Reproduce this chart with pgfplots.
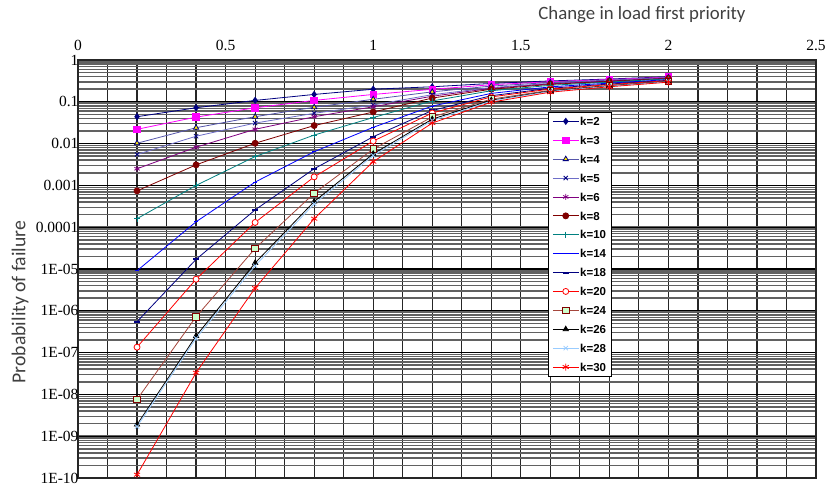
\documentclass[border=0pt]{standalone}
\usepackage{fontspec}
\setmainfont{Liberation Serif}
\newfontfamily\calibri{Carlito}
\newfontfamily\arialf{Liberation Sans}
\usepackage{pgfplots}
\pgfplotsset{compat=1.18}
\definecolor{cNavy}{RGB}{0,0,128}
\definecolor{cMag}{RGB}{255,0,255}
\definecolor{cSlate}{RGB}{85,85,170}
\definecolor{cSlate2}{RGB}{110,110,200}
\definecolor{cPurp}{RGB}{128,0,128}
\definecolor{cDRed}{RGB}{128,0,0}
\definecolor{cTeal}{RGB}{0,128,128}
\definecolor{cBlue}{RGB}{0,0,255}
\definecolor{cRed}{RGB}{255,0,0}
\definecolor{cBrown}{RGB}{165,70,60}
\definecolor{cPaleG}{RGB}{204,255,204}
\definecolor{cLBlue}{RGB}{153,204,255}
\definecolor{cYel}{RGB}{255,230,0}
\definecolor{cLab}{RGB}{64,64,64}
\begin{document}
\begin{tikzpicture}
\useasboundingbox (-78pt,-10pt) rectangle (755pt,478pt);
\begin{axis}[
  at={(0pt,0pt)}, anchor=south west,
  scale only axis, width=738pt, height=418pt,
  xmin=0, xmax=2.5, ymode=log, ymin=1e-10, ymax=1,
  xtick={0,0.5,1,1.5,2,2.5}, xticklabels={0,0.5,1,1.5,2,2.5},
  minor x tick num=4,
  xticklabel pos=upper,
  ytick={1e-10,1e-9,1e-8,1e-7,1e-6,1e-5,1e-4,1e-3,1e-2,1e-1,1},
  yticklabels={1E-10,1E-09,1E-08,1E-07,1E-06,1E-05,0.0001,0.001,0.01,0.1,1},
  grid=both,
  major x grid style={black!85, line width=1.2pt},
  minor x grid style={black!85, line width=1.2pt},
  major y grid style={black, line width=1.2pt},
  minor y grid style={black!62, line width=1.5pt},
  major tick length=0pt, minor tick length=0pt,
  axis line style={black!85, line width=1.1pt},
  tick label style={font=\fontsize{15.5}{17}\selectfont},
  xticklabel style={yshift=5.5pt},
  yticklabel style={xshift=4pt},
  clip=false,
  every axis plot/.append style={line width=0.8pt},
  legend image code/.code={\draw[mark repeat=2,mark phase=2] plot coordinates {(0pt,0pt) (13pt,0pt) (26pt,0pt)};},
  legend style={at={(0.637,0.876)}, anchor=north west, draw=black, line width=0.5pt, fill=white,
    font=\arialf\bfseries\fontsize{11.5}{13}\selectfont, inner sep=4pt, row sep=8.4pt,
    nodes={inner sep=1pt, text height=8.5pt, text depth=0pt}},
  legend cell align=left,
]
\addplot[cNavy, mark=diamond*, mark size=3pt, mark options={fill=cNavy}] coordinates {(0.2,0.044)(0.4,0.072)(0.6,0.108)(0.8,0.15)(1.0,0.20)(1.2,0.229)(1.4,0.275)(1.6,0.316)(1.8,0.351)(2.0,0.398)};
\addlegendentry{k=2}
\addplot[cMag, mark=square*, mark size=3.3pt, mark options={fill=cMag}] coordinates {(0.2,0.022)(0.4,0.043)(0.6,0.072)(0.8,0.108)(1.0,0.15)(1.2,0.199)(1.4,0.256)(1.6,0.303)(1.8,0.340)(2.0,0.390)};
\addlegendentry{k=3}
\addplot[cSlate, mark=triangle*, mark size=3pt, mark options={fill=cYel, draw=cNavy}] coordinates {(0.2,0.0102)(0.4,0.024)(0.6,0.044)(0.8,0.074)(1.0,0.115)(1.2,0.173)(1.4,0.238)(1.6,0.290)(1.8,0.330)(2.0,0.382)};
\addlegendentry{k=4}
\addplot[cSlate2, mark=x, mark size=3pt, mark options={draw=cNavy}] coordinates {(0.2,0.0055)(0.4,0.015)(0.6,0.031)(0.8,0.053)(1.0,0.084)(1.2,0.148)(1.4,0.219)(1.6,0.276)(1.8,0.319)(2.0,0.372)};
\addlegendentry{k=5}
\addplot[cPurp, mark=asterisk, mark size=3pt] coordinates {(0.2,0.0025)(0.4,0.0082)(0.6,0.022)(0.8,0.044)(1.0,0.076)(1.2,0.136)(1.4,0.210)(1.6,0.269)(1.8,0.314)(2.0,0.368)};
\addlegendentry{k=6}
\addplot[cDRed, mark=*, mark size=3pt, mark options={fill=cDRed}] coordinates {(0.2,0.00074)(0.4,0.0031)(0.6,0.0102)(0.8,0.027)(1.0,0.057)(1.2,0.123)(1.4,0.200)(1.6,0.261)(1.8,0.308)(2.0,0.363)};
\addlegendentry{k=8}
\addplot[cTeal, mark=+, mark size=3pt] coordinates {(0.2,0.00016)(0.4,0.001)(0.6,0.0049)(0.8,0.016)(1.0,0.042)(1.2,0.105)(1.4,0.184)(1.6,0.248)(1.8,0.297)(2.0,0.354)};
\addlegendentry{k=10}
\addplot[cBlue, mark=-, mark size=2pt] coordinates {(0.2,9.1e-6)(0.4,1.35e-4)(0.6,0.0012)(0.8,0.0064)(1.0,0.0245)(1.2,0.079)(1.4,0.159)(1.6,0.228)(1.8,0.280)(2.0,0.340)};
\addlegendentry{k=14}
\addplot[cNavy, mark=-, mark size=3pt, mark options={line width=2pt}] coordinates {(0.2,5.5e-7)(0.4,1.7e-5)(0.6,2.6e-4)(0.8,0.0025)(1.0,0.0146)(1.2,0.062)(1.4,0.140)(1.6,0.211)(1.8,0.266)(2.0,0.327)};
\addlegendentry{k=18}
\addplot[cRed, mark=*, mark size=3pt, mark options={fill=white}] coordinates {(0.2,1.35e-7)(0.4,5.7e-6)(0.6,1.3e-4)(0.8,0.0016)(1.0,0.0115)(1.2,0.054)(1.4,0.131)(1.6,0.202)(1.8,0.258)(2.0,0.321)};
\addlegendentry{k=20}
\addplot[cBrown, mark=square*, mark size=3.3pt, mark options={fill=cPaleG, draw=cDRed}] coordinates {(0.2,7.6e-9)(0.4,7.2e-7)(0.6,3.1e-5)(0.8,6.5e-4)(1.0,0.0074)(1.2,0.0435)(1.4,0.116)(1.6,0.189)(1.8,0.246)(2.0,0.310)};
\addlegendentry{k=24}
\addplot[black, mark=triangle*, mark size=3pt, mark options={fill=black}] coordinates {(0.2,1.9e-9)(0.4,2.5e-7)(0.6,1.4e-5)(0.8,4.1e-4)(1.0,0.0057)(1.2,0.0385)(1.4,0.109)(1.6,0.182)(1.8,0.240)(2.0,0.305)};
\addlegendentry{k=26}
\addplot[cLBlue, mark=x, mark size=3pt] coordinates {(0.2,1.7e-9)(0.4,2.2e-7)(0.6,1.2e-5)(0.8,3.6e-4)(1.0,0.0052)(1.2,0.0356)(1.4,0.105)(1.6,0.177)(1.8,0.236)(2.0,0.301)};
\addlegendentry{k=28}
\addplot[cRed, mark=asterisk, mark size=3.5pt] coordinates {(0.2,1.2e-10)(0.4,3.3e-8)(0.6,3.5e-6)(0.8,1.6e-4)(1.0,0.0037)(1.2,0.031)(1.4,0.098)(1.6,0.170)(1.8,0.229)(2.0,0.295)};
\addlegendentry{k=30}
\end{axis}
\node[rotate=90, text=cLab, font=\calibri\fontsize{19.7}{22}\selectfont] at (-58pt,176pt) {Probability of failure};
\node[text=cLab, font=\calibri\fontsize{18.8}{20}\selectfont] at (564pt,463pt) {Change in load first priority};
\end{tikzpicture}
\end{document}
